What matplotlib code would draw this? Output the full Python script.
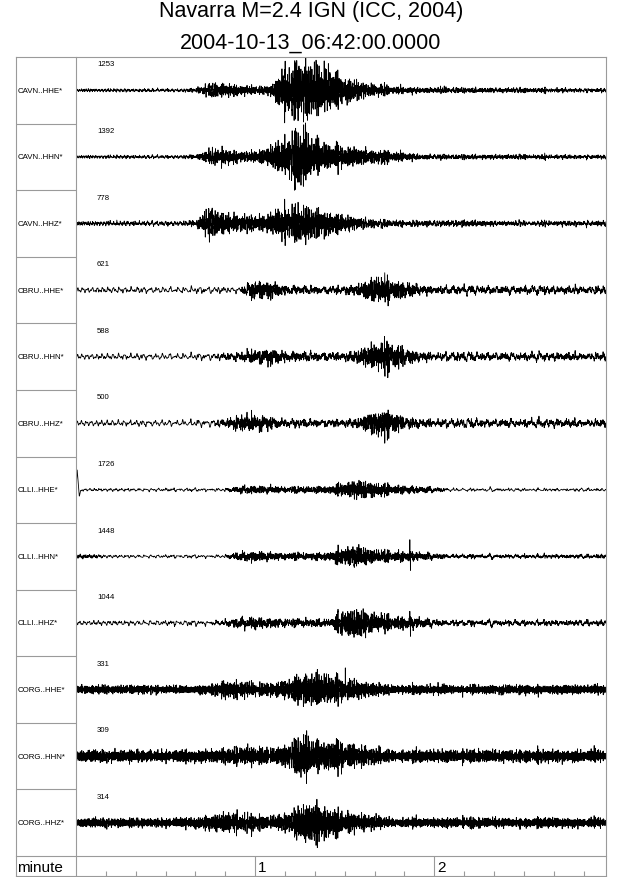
import numpy as np
import matplotlib
matplotlib.use('Agg')
import matplotlib.pyplot as plt
from matplotlib.lines import Line2D

plt.rcParams['font.family'] = ['Liberation Sans', 'DejaVu Sans']

title = 'Navarra M=2.4 IGN (ICC, 2004)\n2004-10-13_06:42:00.0000'

channels = ['CAVN..HHE*', 'CAVN..HHN*', 'CAVN..HHZ*',
            'CBRU..HHE*', 'CBRU..HHN*', 'CBRU..HHZ*',
            'CLLI..HHE*', 'CLLI..HHN*', 'CLLI..HHZ*',
            'CORG..HHE*', 'CORG..HHN*', 'CORG..HHZ*']
peak_counts = [1253, 1392, 778, 621, 588, 500, 1726, 1448, 1044, 331, 309, 314]

# envelope knots (seconds) and half-amplitude, in units of half a row
env_times = np.arange(0, 180, 5)
env_cavn_hhe = [0.05, 0.05, 0.05, 0.05, 0.05, 0.05, 0.05, 0.05, 0.06, 0.2, 0.2, 0.14,
                0.12, 0.15, 0.7, 0.85, 0.8, 0.65, 0.4, 0.25, 0.17, 0.12, 0.1, 0.09,
                0.08, 0.08, 0.08, 0.08, 0.07, 0.07, 0.07, 0.07, 0.06, 0.06, 0.06, 0.06]
env_cavn_hhn = [0.05, 0.05, 0.05, 0.05, 0.05, 0.05, 0.05, 0.05, 0.06, 0.2, 0.25, 0.15,
                0.17, 0.3, 0.6, 0.9, 0.5, 0.4, 0.3, 0.25, 0.2, 0.15, 0.13, 0.08,
                0.07, 0.07, 0.07, 0.07, 0.07, 0.07, 0.07, 0.07, 0.06, 0.06, 0.06, 0.06]
env_cavn_hhz = [0.07, 0.07, 0.07, 0.07, 0.07, 0.07, 0.07, 0.07, 0.08, 0.45, 0.3, 0.25,
                0.22, 0.3, 0.5, 0.55, 0.45, 0.35, 0.25, 0.15, 0.12, 0.1, 0.09, 0.09,
                0.09, 0.09, 0.09, 0.09, 0.08, 0.08, 0.08, 0.08, 0.08, 0.08, 0.08, 0.08]
env_cbru_hhe = [0.1, 0.1, 0.1, 0.1, 0.1, 0.1, 0.1, 0.1, 0.1, 0.1, 0.1, 0.1,
                0.28, 0.25, 0.15, 0.13, 0.12, 0.12, 0.13, 0.18, 0.42, 0.3, 0.25, 0.15,
                0.12, 0.12, 0.12, 0.12, 0.12, 0.12, 0.12, 0.12, 0.12, 0.12, 0.12, 0.12]
env_cbru_hhn = [0.1, 0.1, 0.1, 0.1, 0.1, 0.1, 0.1, 0.1, 0.1, 0.1, 0.11, 0.13,
                0.2, 0.22, 0.16, 0.14, 0.13, 0.13, 0.13, 0.2, 0.4, 0.45, 0.25, 0.15,
                0.12, 0.12, 0.12, 0.12, 0.12, 0.12, 0.12, 0.12, 0.12, 0.12, 0.12, 0.12]
env_cbru_hhz = [0.1, 0.1, 0.1, 0.1, 0.1, 0.1, 0.1, 0.1, 0.1, 0.1, 0.12, 0.22,
                0.25, 0.18, 0.13, 0.12, 0.12, 0.12, 0.12, 0.15, 0.38, 0.35, 0.18, 0.13,
                0.12, 0.12, 0.12, 0.12, 0.12, 0.12, 0.12, 0.12, 0.12, 0.12, 0.12, 0.12]
env_clli_hhe = [0.05, 0.05, 0.05, 0.05, 0.05, 0.05, 0.05, 0.05, 0.05, 0.05, 0.05, 0.1,
                0.12, 0.1, 0.09, 0.09, 0.1, 0.12, 0.22, 0.25, 0.22, 0.15, 0.12, 0.1,
                0.07, 0.05, 0.05, 0.05, 0.05, 0.05, 0.05, 0.05, 0.05, 0.05, 0.05, 0.05]
env_clli_hhn = [0.07, 0.06, 0.05, 0.05, 0.05, 0.05, 0.05, 0.05, 0.05, 0.05, 0.05, 0.12,
                0.15, 0.12, 0.1, 0.1, 0.1, 0.13, 0.28, 0.3, 0.2, 0.15, 0.15, 0.12,
                0.08, 0.06, 0.06, 0.06, 0.06, 0.06, 0.06, 0.06, 0.06, 0.06, 0.06, 0.06]
env_clli_hhz = [0.08, 0.08, 0.08, 0.08, 0.08, 0.08, 0.08, 0.08, 0.08, 0.08, 0.09, 0.15,
                0.18, 0.14, 0.12, 0.12, 0.12, 0.13, 0.4, 0.4, 0.3, 0.2, 0.2, 0.15,
                0.1, 0.09, 0.09, 0.09, 0.09, 0.09, 0.09, 0.09, 0.09, 0.09, 0.09, 0.09]
env_corg_hhe = [0.12, 0.12, 0.12, 0.12, 0.12, 0.12, 0.12, 0.12, 0.1, 0.15, 0.25, 0.25,
                0.2, 0.18, 0.25, 0.4, 0.5, 0.45, 0.35, 0.25, 0.18, 0.13, 0.13, 0.13,
                0.13, 0.13, 0.13, 0.13, 0.13, 0.13, 0.13, 0.13, 0.13, 0.13, 0.13, 0.13]
env_corg_hhn = [0.17, 0.17, 0.17, 0.17, 0.17, 0.17, 0.17, 0.17, 0.17, 0.17, 0.22, 0.28,
                0.25, 0.22, 0.3, 0.6, 0.5, 0.5, 0.4, 0.3, 0.22, 0.18, 0.18, 0.18,
                0.18, 0.18, 0.18, 0.18, 0.18, 0.18, 0.18, 0.18, 0.18, 0.18, 0.18, 0.18]
env_corg_hhz = [0.13, 0.13, 0.13, 0.13, 0.13, 0.13, 0.13, 0.13, 0.15, 0.2, 0.3, 0.28,
                0.22, 0.2, 0.25, 0.5, 0.65, 0.45, 0.35, 0.25, 0.2, 0.14, 0.14, 0.14,
                0.14, 0.14, 0.14, 0.14, 0.14, 0.14, 0.14, 0.14, 0.14, 0.14, 0.14, 0.14]
envelopes = [env_cavn_hhe, env_cavn_hhn, env_cavn_hhz,
             env_cbru_hhe, env_cbru_hhn, env_cbru_hhz,
             env_clli_hhe, env_clli_hhn, env_clli_hhz,
             env_corg_hhe, env_corg_hhn, env_corg_hhz]

# background noise band (Hz) per station
noise_band = {'CAVN': (0.6, 8.0), 'CBRU': (0.3, 2.5), 'CLLI': (0.3, 3.0), 'CORG': (2.0, 18.0)}
event_band = (1.5, 16.0)

# single large swings seen on some traces: (channel, second, amplitude)
spikes = [('CAVN..HHE*', 77.5, -0.9), ('CAVN..HHE*', 90.8, -0.45),
          ('CAVN..HHN*', 73.2, -1.0), ('CAVN..HHN*', 73.4, 0.8),
          ('CLLI..HHN*', 111.8, 0.5), ('CLLI..HHN*', 112.0, -0.42),
          ('CLLI..HHZ*', 111.8, 0.35), ('CLLI..HHZ*', 112.0, -0.4),
          ('CORG..HHE*', 90.2, 0.65), ('CORG..HHN*', 77.2, -0.82)]
# start-up transient on CLLI..HHE*
glitch_t = [0.0, 0.4, 0.7, 1.1, 1.6, 2.0]
glitch_v = [0.0, 0.57, 0.3, -0.18, -0.05, 0.0]

t_end = 177.5
fs = 40.0
t = np.arange(0, t_end, 1.0 / fs)


def carrier(f_lo, f_hi, shift, n=120):
    k = np.arange(n)
    f = f_lo * (f_hi / f_lo) ** ((k + 0.37 * ((k * 0.618034) % 1)) / n)
    ph = 2 * np.pi * ((k * k * 0.7548777 + k * 0.5698403 + shift) % 1)
    a = f ** -0.3
    s = (a[:, None] * np.sin(2 * np.pi * f[:, None] * t[None, :] + ph[:, None])).sum(0)
    return s / (2.2 * s.std())


W, H = 640, 878
fig = plt.figure(figsize=(W / 100, H / 100), dpi=100)


def fx(px):
    return px / W


def fy(py):
    return 1 - py / H


frame_col = '#9a9a9a'
x0, x1, xl = 16, 606, 76
ytop, yaxis, ybot = 58, 857, 877

ax = fig.add_axes([fx(xl), fy(yaxis), fx(x1) - fx(xl), fy(ytop) - fy(yaxis)])
ax.set_xlim(0, t_end)
ax.set_ylim(0, 12)
ax.axis('off')

n = len(channels)
for i, (ch, env) in enumerate(zip(channels, envelopes)):
    sta = ch[:4]
    e = np.interp(t, env_times, env)
    bg = min(env)
    c_noise = carrier(*noise_band[sta], shift=0.11 * i)
    c_event = carrier(*event_band, shift=0.37 + 0.23 * i)
    y = bg * c_noise + np.sqrt(np.clip(e ** 2 - bg ** 2, 0, None)) * c_event
    for sch, st, sa in spikes:
        if sch == ch:
            y[int(round(st * fs))] = sa
    if ch == 'CLLI..HHE*':
        m = t <= glitch_t[-1]
        y[m] += np.interp(t[m], glitch_t, glitch_v)
    yc = n - 0.5 - i
    ax.plot(t, yc + 0.5 * y, color='black', lw=0.6)
    ax.text(7.0, n - i - 0.105, str(peak_counts[i]), fontsize=5.6, va='center', ha='left')

# label column
axl = fig.add_axes([fx(x0), fy(yaxis), fx(xl) - fx(x0), fy(ytop) - fy(yaxis)])
axl.set_xlim(0, 1)
axl.set_ylim(0, 12)
axl.axis('off')
axl.hlines(np.arange(1, n), 0, 1, color=frame_col, lw=0.8)
for i, ch in enumerate(channels):
    axl.text(0.02, n - 0.5 - i, ch, fontsize=5.7, va='center', ha='left')

# time axis row
axt = fig.add_axes([fx(xl), fy(ybot), fx(x1) - fx(xl), fy(yaxis) - fy(ybot)])
axt.set_xlim(0, t_end)
axt.set_ylim(0, 1)
axt.axis('off')
minor = [s for s in range(10, 178, 10) if s % 60]
axt.vlines(minor, 0, 0.25, color=frame_col, lw=0.8)
axt.vlines([60, 120], 0, 1, color=frame_col, lw=0.8)
for s, lab in [(60, '1'), (120, '2')]:
    axt.text(s + 1.0, 0.45, lab, fontsize=11, va='center', ha='left')
fig.text(fx(x0 + 1), fy((yaxis + ybot) / 2 + 1), 'minute', fontsize=11, va='center', ha='left')

# frame
for xs, ys in [((x0, x1), (ytop, ytop)), ((x0, x1), (ybot, ybot)), ((x0, x1), (yaxis, yaxis)),
               ((x0, x0), (ytop, ybot)), ((x1, x1), (ytop, ybot)), ((xl, xl), (ytop, ybot))]:
    fig.add_artist(Line2D([fx(v) for v in xs], [fy(v) for v in ys],
                          transform=fig.transFigure, color=frame_col, lw=0.8))

fig.text(fx(311), fy(12), 'Navarra M=2.4 IGN (ICC, 2004)', fontsize=15.5, ha='center', va='center')
fig.text(fx(311), fy(43), '2004-10-13_06:42:00.0000', fontsize=15.5, ha='center', va='center')

fig.savefig('out.png', dpi=100)
